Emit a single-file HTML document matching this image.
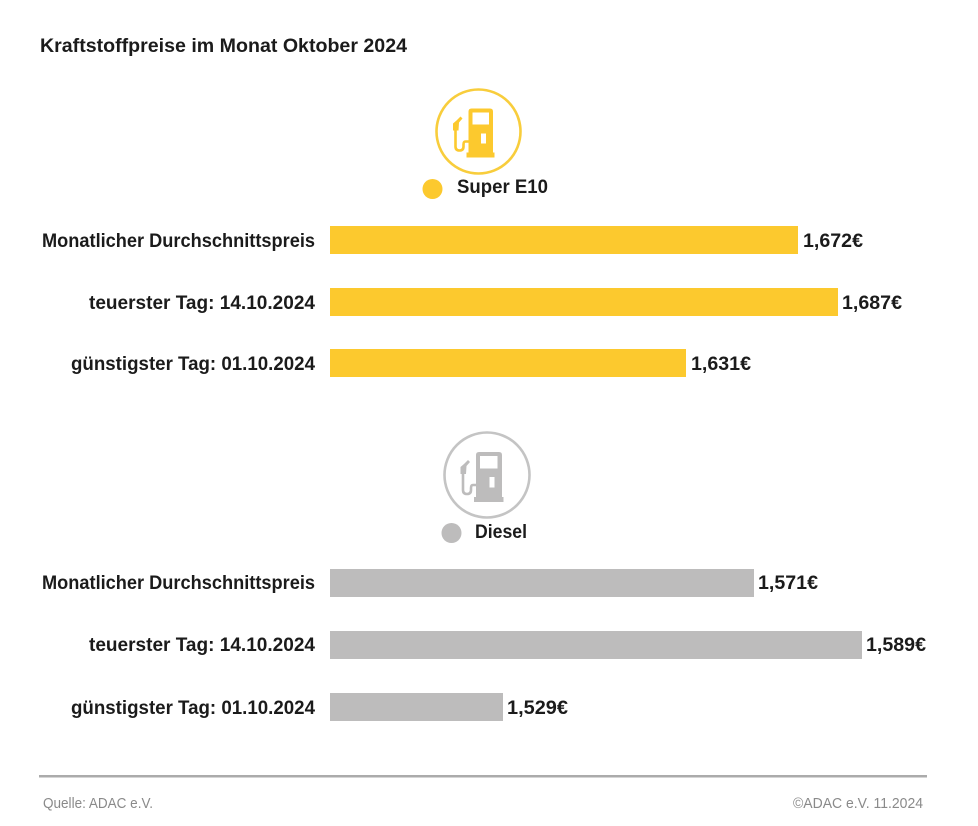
<!DOCTYPE html>
<html>
<head>
<meta charset="utf-8">
<style>
  html, body { margin:0; padding:0; background:#ffffff; }
  svg { display:block; }
  .lbl { font-family:"Liberation Sans", sans-serif; font-weight:bold; font-size:19px; fill:#1b1b1b; }
  .val { font-family:"Liberation Sans", sans-serif; font-weight:bold; font-size:19px; fill:#1b1b1b; }
  .foot { font-family:"Liberation Sans", sans-serif; font-size:15px; fill:#8a8a8a; }
</style>
</head>
<body>
<svg width="978" height="826" viewBox="0 0 978 826" xmlns="http://www.w3.org/2000/svg">
  <rect width="978" height="826" fill="#ffffff"/>

  <!-- Title -->
  <text class="lbl" x="40" y="52" textLength="367" lengthAdjust="spacingAndGlyphs">Kraftstoffpreise im Monat Oktober 2024</text>

  <!-- E10 icon -->
  <g transform="translate(478.5,131.5)">
    <circle cx="0" cy="0" r="42" fill="none" stroke="#f8cd3c" stroke-width="2.6"/>
    <path d="M -10 -20 Q -10 -23 -7 -23 L 11.5 -23 Q 14.5 -23 14.5 -20 L 14.5 21 L 16 21 L 16 26 L -12 26 L -12 21 L -10 21 Z" fill="#fcc92e"/>
    <rect x="-6" y="-19" width="16.5" height="12" fill="#ffffff"/>
    <rect x="2.5" y="2" width="5" height="10" fill="#ffffff"/>
    <path d="M -10 10 L -13 10 Q -15 10 -15 13 L -15 15 Q -15 19 -19 19 Q -23 19 -23 15 L -23 -2" fill="none" stroke="#fcc92e" stroke-width="2.6"/>
    <path d="M -25.5 -1 L -20 -1 L -19.5 -9 L -16 -13 L -18 -15 L -22 -11 L -25.5 -8 Z" fill="#fcc92e"/>
  </g>
  <circle cx="432.5" cy="189" r="10" fill="#fcc92e"/>
  <text class="lbl" x="457" y="193" textLength="91" lengthAdjust="spacingAndGlyphs">Super E10</text>

  <!-- E10 bars -->
  <text class="lbl" x="315" y="247" text-anchor="end" textLength="273" lengthAdjust="spacingAndGlyphs">Monatlicher Durchschnittspreis</text>
  <rect x="330" y="226" width="468" height="28" fill="#fcc92e"/>
  <text class="val" x="803" y="247" textLength="60" lengthAdjust="spacingAndGlyphs">1,672€</text>

  <text class="lbl" x="315" y="309" text-anchor="end" textLength="226" lengthAdjust="spacingAndGlyphs">teuerster Tag: 14.10.2024</text>
  <rect x="330" y="288" width="508" height="28" fill="#fcc92e"/>
  <text class="val" x="842" y="309" textLength="60" lengthAdjust="spacingAndGlyphs">1,687€</text>

  <text class="lbl" x="315" y="370" text-anchor="end" textLength="244" lengthAdjust="spacingAndGlyphs">günstigster Tag: 01.10.2024</text>
  <rect x="330" y="349" width="356" height="28" fill="#fcc92e"/>
  <text class="val" x="691" y="370" textLength="60" lengthAdjust="spacingAndGlyphs">1,631€</text>

  <!-- Diesel icon -->
  <g transform="translate(487,475)">
    <circle cx="0" cy="0" r="42.5" fill="none" stroke="#c4c4c4" stroke-width="2.6"/>
    <path d="M -11 -20 Q -11 -23 -8 -23 L 12 -23 Q 15 -23 15 -20 L 15 22 L 16.5 22 L 16.5 27 L -13 27 L -13 22 L -11 22 Z" fill="#bdbcbc"/>
    <rect x="-7" y="-19" width="17.5" height="12.5" fill="#ffffff"/>
    <rect x="2.5" y="2" width="5" height="10.5" fill="#ffffff"/>
    <path d="M -11 10 L -14 10 Q -16 10 -16 13 L -16 15 Q -16 19 -20 19 Q -24 19 -24 15 L -24 -2" fill="none" stroke="#bdbcbc" stroke-width="2.6"/>
    <path d="M -26.5 -1 L -21 -1 L -20.5 -9 L -17 -13 L -19 -15 L -23 -11 L -26.5 -8 Z" fill="#bdbcbc"/>
  </g>
  <circle cx="451.5" cy="533" r="10" fill="#bdbcbc"/>
  <text class="lbl" x="475" y="538" textLength="52" lengthAdjust="spacingAndGlyphs">Diesel</text>

  <!-- Diesel bars -->
  <text class="lbl" x="315" y="589" text-anchor="end" textLength="273" lengthAdjust="spacingAndGlyphs">Monatlicher Durchschnittspreis</text>
  <rect x="330" y="569" width="424" height="28" fill="#bdbcbc"/>
  <text class="val" x="758" y="589" textLength="60" lengthAdjust="spacingAndGlyphs">1,571€</text>

  <text class="lbl" x="315" y="651" text-anchor="end" textLength="226" lengthAdjust="spacingAndGlyphs">teuerster Tag: 14.10.2024</text>
  <rect x="330" y="631" width="532" height="28" fill="#bdbcbc"/>
  <text class="val" x="866" y="651" textLength="60" lengthAdjust="spacingAndGlyphs">1,589€</text>

  <text class="lbl" x="315" y="714" text-anchor="end" textLength="244" lengthAdjust="spacingAndGlyphs">günstigster Tag: 01.10.2024</text>
  <rect x="330" y="693" width="173" height="28" fill="#bdbcbc"/>
  <text class="val" x="507" y="714" textLength="61" lengthAdjust="spacingAndGlyphs">1,529€</text>

  <!-- Footer -->
  <rect x="39" y="775" width="888" height="2.5" fill="#ababab"/>
  <text class="foot" x="43" y="808" textLength="110" lengthAdjust="spacingAndGlyphs">Quelle: ADAC e.V.</text>
  <text class="foot" x="923" y="808" text-anchor="end" textLength="130" lengthAdjust="spacingAndGlyphs">©ADAC e.V. 11.2024</text>
</svg>
</body>
</html>
